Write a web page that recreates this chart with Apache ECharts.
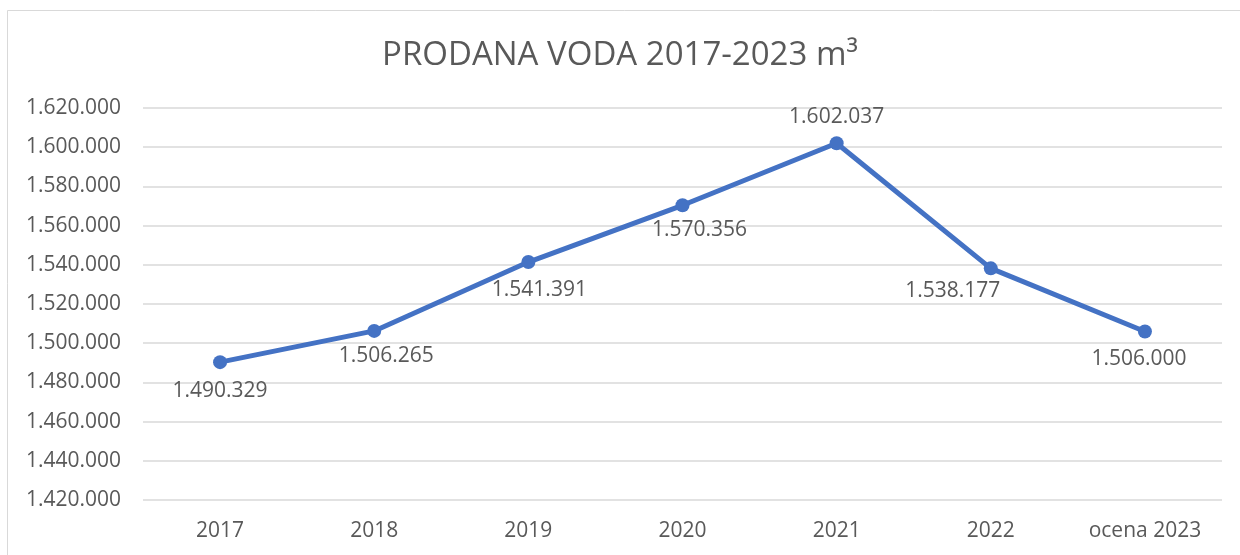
<!DOCTYPE html>
<html>
<head>
<meta charset="utf-8">
<script src="https://cdn.jsdelivr.net/npm/echarts@6/dist/echarts.min.js"></script>
<style>
  html, body { margin: 0; padding: 0; background: #fff; }
  #chart { width: 1240px; height: 555px; }
</style>
</head>
<body>
<div id="chart"></div>
<script>
// podatki
const years = ['2017', '2018', '2019', '2020', '2021', '2022', 'ocena 2023'];
const soldWater = [1490329, 1506265, 1541391, 1570356, 1602037, 1538177, 1506000];
const yMin = 1420000;
const yMax = 1620000;
const yStep = 20000;

// 1234567 -> 1.234.567
function fmt(v) {
  return String(Math.round(v)).replace(/\B(?=(\d{3})+(?!\d))/g, '.');
}

// label placement per point (Excel put them around the line by hand)
const labelPos = ['bottom', 'bottom', 'bottom', 'bottom', 'top', 'bottom', 'bottom'];
const labelShift = [[0, 0], [12, -3], [11, -1], [17, -4], [0, 2], [-38, -6], [-6, -1]];

const txt = '#595959';
const font = 'Open Sans';

const chart = echarts.init(document.getElementById('chart'));
chart.setOption({
  animation: false,
  backgroundColor: '#fff',
  textStyle: { fontFamily: font },
  graphic: [{
    type: 'rect',
    shape: { x: 7.5, y: 10.5, width: 1240, height: 560 },
    style: { fill: 'none', stroke: '#D9D9D9', lineWidth: 1 },
    silent: true
  }],
  title: {
    text: 'PRODANA VODA 2017-2023 m³',
    left: 'center',
    top: 34,
    textStyle: { color: txt, fontSize: 33, fontWeight: 'normal', fontFamily: font }
  },
  grid: { left: 143, right: 18, top: 108, bottom: 55 },
  xAxis: {
    type: 'category',
    data: years,
    boundaryGap: true,
    axisLine: { show: false },
    axisTick: { show: false },
    axisLabel: { color: txt, fontSize: 21, margin: 21, fontFamily: font }
  },
  yAxis: {
    type: 'value',
    min: yMin,
    max: yMax,
    interval: yStep,
    axisLine: { show: false },
    axisTick: { show: false },
    axisLabel: { color: txt, fontSize: 21, margin: 22, fontFamily: font, formatter: fmt },
    splitLine: { lineStyle: { color: '#D9D9D9', width: 1.5 } }
  },
  series: [{
    type: 'line',
    data: soldWater.map((v, i) => ({
      value: v,
      label: { position: labelPos[i], offset: labelShift[i] }
    })),
    color: '#4472C4',
    lineStyle: { width: 5, color: '#4472C4' },
    symbol: 'circle',
    symbolSize: 14,
    itemStyle: { color: '#4472C4' },
    label: {
      show: true,
      color: txt,
      fontSize: 21,
      distance: 11,
      fontFamily: font,
      formatter: p => fmt(p.value)
    }
  }]
});
</script>
</body>
</html>
